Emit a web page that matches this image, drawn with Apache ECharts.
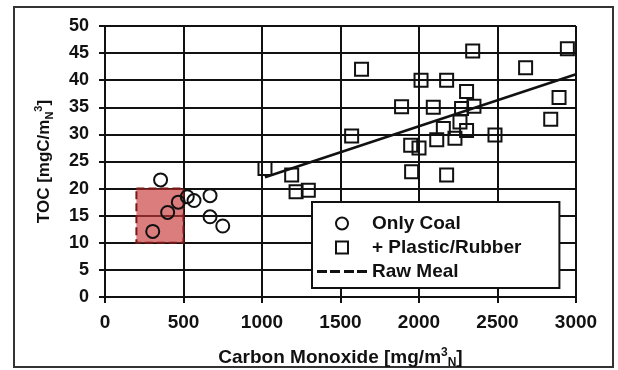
<!DOCTYPE html>
<html>
<head>
<meta charset="utf-8">
<script src="https://cdn.jsdelivr.net/npm/echarts@6/dist/echarts.min.js"></script>
<style>
html,body{margin:0;padding:0;background:#fff;}
#chart{width:618px;height:370px;}
</style>
</head>
<body>
<div id="chart"></div>
<script>
// ---- data ----
const coalX = [304, 354, 399, 467, 524, 567, 669, 669, 750];
const coalY = [12.1, 21.6, 15.6, 17.5, 18.5, 17.8, 18.7, 14.8, 13.1];

const plasticX = [1019, 1189, 1217, 1295, 1571, 1634, 1889, 1947, 1953, 2000, 2013, 2091, 2113, 2155,
                  2176, 2176, 2229, 2261, 2271, 2303, 2303, 2342, 2350, 2484, 2679, 2839, 2892, 2945];
const plasticY = [23.7, 22.5, 19.4, 19.7, 29.7, 42.0, 35.1, 28.0, 23.1, 27.5, 40.0, 35.0, 29.0, 31.1,
                  40.0, 22.5, 29.3, 32.3, 34.8, 37.9, 30.7, 45.4, 35.2, 29.9, 42.3, 32.8, 36.8, 45.8];

const trendX = [1019, 3000];
const trendY = [22.1, 41.1];

const rawMealX = [200, 500];
const rawMealY = [10, 20];

const xTicks = [0, 500, 1000, 1500, 2000, 2500, 3000];
const yTicks = [0, 5, 10, 15, 20, 25, 30, 35, 40, 45, 50];

const seriesNames = ['Only Coal', '+ Plastic/Rubber', 'Raw Meal'];

// ---- build ----
const zip = (xs, ys) => xs.map((x, i) => [x, ys[i]]);
const FONT = "'Liberation Sans', Arial, sans-serif";
const INK = '#111';

const chart = echarts.init(document.getElementById('chart'));
chart.setOption({
  backgroundColor: '#fff',
  animation: false,
  textStyle: { fontFamily: FONT },
  grid: { left: 105, right: 42, top: 26, bottom: 73, containLabel: false, outerBoundsMode: 'none' },
  graphic: [{
    type: 'rect',
    shape: { x: 14, y: 7, width: 599, height: 360 },
    style: { fill: 'none', stroke: '#333', lineWidth: 2 },
    silent: true, z: -1
  }],
  xAxis: {
    type: 'value',
    min: xTicks[0], max: xTicks[xTicks.length - 1], interval: xTicks[1] - xTicks[0],
    name: 'Carbon Monoxide [mg/m{sup|3}{sub|N}]',
    nameLocation: 'middle', nameGap: 50,
    nameTextStyle: {
      fontSize: 19, fontWeight: 'bold', color: INK, fontFamily: FONT, lineHeight: 22,
      rich: {
        sup: { fontSize: 12, fontWeight: 'bold', color: INK, verticalAlign: 'top', lineHeight: 22 },
        sub: { fontSize: 12, fontWeight: 'bold', color: INK, verticalAlign: 'bottom', lineHeight: 22 }
      }
    },
    axisLine: { show: true, lineStyle: { color: INK, width: 2 } },
    axisTick: { show: true, length: 6, lineStyle: { color: INK, width: 2 } },
    axisLabel: { fontSize: 19, fontWeight: 'bold', color: INK, margin: 16, fontFamily: FONT,
                 formatter: v => String(v) },
    splitLine: { show: true, lineStyle: { color: INK, width: 2 } }
  },
  yAxis: {
    type: 'value',
    min: yTicks[0], max: yTicks[yTicks.length - 1], interval: yTicks[1] - yTicks[0],
    name: 'TOC [mgC/m{sub|N}{sup|3}]',
    nameLocation: 'middle', nameGap: 50, nameRotate: 90,
    nameTextStyle: {
      fontSize: 17, fontWeight: 'bold', color: INK, fontFamily: FONT, lineHeight: 22,
      rich: {
        sup: { fontSize: 11, fontWeight: 'bold', color: INK, verticalAlign: 'top', lineHeight: 22 },
        sub: { fontSize: 11, fontWeight: 'bold', color: INK, verticalAlign: 'bottom', lineHeight: 22 }
      }
    },
    axisLine: { show: true, lineStyle: { color: INK, width: 2 } },
    axisTick: { show: true, length: 6, lineStyle: { color: INK, width: 2 } },
    axisLabel: { fontSize: 18, fontWeight: 'bold', color: INK, margin: 16, fontFamily: FONT,
                 formatter: v => String(v) },
    splitLine: { show: true, lineStyle: { color: INK, width: 2 } }
  },
  legend: {
    orient: 'vertical', left: 312, top: 202,
    padding: [12, 38, 7, 5],
    itemWidth: 50, itemHeight: 12, itemGap: 5,
    backgroundColor: '#fff', borderColor: INK, borderWidth: 2, borderRadius: 0,
    selectedMode: false,
    textStyle: { fontSize: 19, fontWeight: 'bold', color: INK, fontFamily: FONT },
    data: [
      { name: seriesNames[0], icon: 'circle' },
      { name: seriesNames[1], icon: 'path://M0,0h10v10h-10z' },
      { name: seriesNames[2], icon: 'path://M0,0h10v3h-10z M13,0h10v3h-10z M27,0h10v3h-10z M40,0h10v3h-10z' }
    ]
  },
  series: [
    {
      name: seriesNames[2],
      type: 'line',
      data: [],
      color: INK,
      itemStyle: { color: INK },
      lineStyle: { color: INK, type: 'dashed' },
      z: 1,
      markArea: {
        silent: true,
        itemStyle: {
          color: 'rgba(200,55,55,0.65)',
          borderColor: '#7a1818', borderWidth: 2, borderType: 'dashed'
        },
        data: [[{ coord: [rawMealX[0], rawMealY[1]] }, { coord: [rawMealX[1], rawMealY[0]] }]]
      }
    },
    {
      name: 'trend',
      type: 'line',
      data: zip(trendX, trendY),
      symbol: 'none',
      lineStyle: { color: INK, width: 2.5 },
      z: 3
    },
    {
      name: seriesNames[0],
      type: 'scatter',
      data: zip(coalX, coalY),
      symbol: 'circle',
      symbolSize: 13,
      itemStyle: { color: 'rgba(0,0,0,0)', borderColor: INK, borderWidth: 2, opacity: 1 },
      z: 4
    },
    {
      name: seriesNames[1],
      type: 'scatter',
      data: zip(plasticX, plasticY),
      symbol: 'rect',
      symbolSize: 13,
      itemStyle: { color: 'rgba(0,0,0,0)', borderColor: INK, borderWidth: 2, opacity: 1 },
      z: 4
    }
  ]
});
</script>
</body>
</html>
